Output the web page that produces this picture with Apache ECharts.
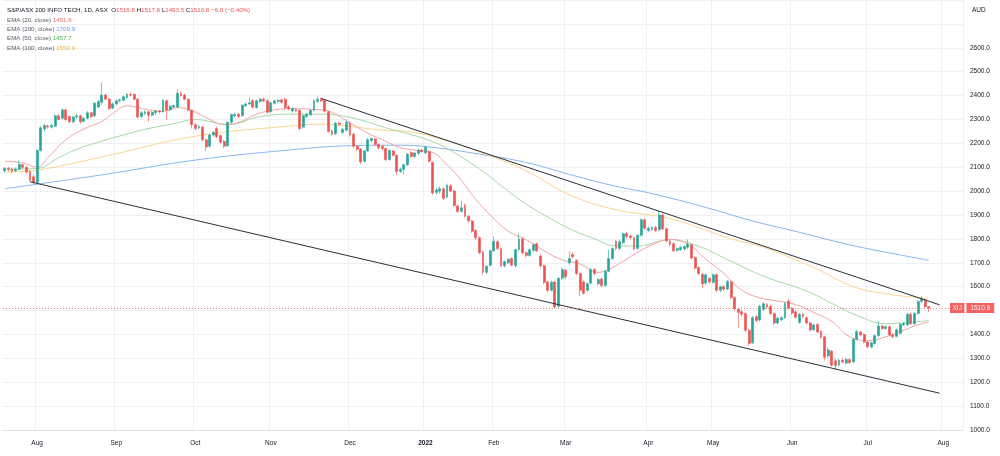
<!DOCTYPE html>
<html>
<head>
<meta charset="utf-8">
<title>S&amp;P/ASX 200 INFO TECH</title>
<script src="https://cdn.jsdelivr.net/npm/echarts/dist/echarts.min.js"></script>
<style>
  html, body { margin: 0; padding: 0; background: #fff; }
  #chart { width: 1000px; height: 456px; }
</style>
</head>
<body>
<div id="chart"></div>
<script>
// daily candles, [open, close, low, high], one array per month
const jul21 = [[2085,2095,2078,2100],[2095,2090,2082,2102],[2092,2084,2075,2098],[2085,2092,2080,2098],[2092,2112,2088,2128],[2110,2100,2094,2115],[2100,2080,2072,2104],[2082,2045,2040,2088],[2060,2036,2030,2070]];
const aug21 = [[2036,2170,2032,2175],[2170,2265,2165,2272],[2260,2275,2250,2282],[2272,2268,2262,2280],[2268,2275,2262,2282],[2272,2315,2268,2320],[2315,2300,2295,2322],[2305,2340,2300,2346],[2340,2300,2292,2345],[2312,2290,2285,2318],[2290,2310,2285,2315],[2310,2315,2300,2322],[2315,2290,2282,2320],[2292,2305,2288,2310],[2305,2328,2300,2335],[2328,2312,2305,2332],[2315,2368,2310,2372],[2352,2375,2348,2382],[2372,2402,2360,2455],[2402,2385,2380,2408],[2385,2345,2340,2390],[2348,2365,2342,2372]];
const sep21 = [[2365,2378,2358,2385],[2378,2382,2370,2388],[2380,2395,2375,2400],[2392,2405,2385,2410],[2405,2402,2396,2414],[2405,2385,2380,2410],[2385,2310,2305,2388],[2312,2328,2305,2335],[2325,2332,2318,2338],[2332,2318,2290,2336],[2318,2330,2312,2335],[2328,2335,2320,2340],[2335,2332,2325,2340],[2332,2380,2328,2386],[2378,2340,2298,2382],[2340,2355,2335,2360],[2352,2358,2345,2362],[2352,2410,2348,2425],[2410,2400,2395,2420],[2402,2385,2380,2408],[2385,2340,2335,2388],[2340,2278,2262,2342]];
const oct21 = [[2278,2262,2255,2285],[2265,2270,2258,2278],[2268,2215,2208,2272],[2215,2185,2168,2220],[2188,2235,2182,2240],[2235,2245,2228,2252],[2262,2228,2222,2270],[2232,2205,2200,2240],[2208,2188,2180,2215],[2190,2288,2185,2292],[2288,2320,2282,2325],[2315,2322,2308,2328],[2322,2312,2305,2328],[2315,2360,2312,2365],[2358,2365,2352,2370],[2365,2370,2360,2392],[2378,2352,2345,2385],[2350,2378,2345,2382],[2375,2385,2370,2390],[2385,2378,2372,2392],[2378,2330,2325,2385]];
const nov21 = [[2332,2370,2328,2375],[2368,2378,2362,2382],[2375,2380,2368,2385],[2382,2372,2365,2388],[2385,2350,2340,2390],[2352,2345,2338,2360],[2335,2345,2328,2350],[2342,2335,2330,2348],[2338,2262,2255,2342],[2268,2315,2262,2320],[2312,2322,2305,2328],[2320,2338,2315,2342],[2338,2378,2335,2385],[2375,2385,2370,2396],[2385,2378,2372,2392],[2380,2335,2328,2385],[2332,2250,2245,2336],[2250,2238,2232,2258],[2240,2285,2235,2290],[2285,2280,2272,2292],[2245,2258,2240,2265],[2255,2288,2250,2295]];
const dec21 = [[2285,2235,2228,2292],[2238,2188,2180,2245],[2188,2175,2168,2192],[2176,2122,2113,2180],[2125,2168,2120,2172],[2168,2215,2165,2222],[2212,2220,2205,2225],[2218,2195,2190,2222],[2195,2182,2175,2200],[2188,2178,2170,2195],[2178,2132,2125,2182],[2132,2170,2128,2175],[2168,2150,2145,2172],[2150,2082,2068,2155],[2082,2092,2075,2098],[2092,2110,2070,2115],[2110,2155,2105,2160],[2162,2145,2140,2168],[2145,2160,2140,2165],[2158,2172,2152,2178],[2172,2165,2160,2178]];
const jan22 = [[2160,2184,2155,2190],[2165,2125,2120,2170],[2120,1992,1985,2125],[1995,2005,1985,2015],[2000,2010,1990,2020],[2010,1970,1962,2015],[1975,2025,1970,2032],[2022,2000,1995,2028],[2000,1940,1935,2005],[1938,1915,1908,1942],[1915,1930,1910,1960],[1940,1895,1890,1948],[1895,1875,1868,1900],[1875,1832,1825,1880],[1835,1805,1795,1840],[1805,1742,1735,1810],[1745,1660,1650,1750],[1660,1685,1650,1690],[1690,1750,1685,1756]];
const feb22 = [[1750,1790,1745,1810],[1788,1760,1752,1795],[1760,1688,1682,1765],[1688,1705,1680,1710],[1700,1715,1695,1720],[1718,1690,1685,1722],[1688,1755,1682,1760],[1755,1800,1750,1823],[1800,1742,1735,1808],[1742,1730,1722,1748],[1730,1755,1725,1760],[1752,1775,1745,1782],[1780,1750,1745,1785],[1728,1688,1680,1735],[1688,1618,1610,1692],[1620,1585,1578,1625],[1585,1618,1580,1625],[1620,1515,1508,1625],[1518,1635,1510,1640],[1635,1672,1628,1680]];
const mar22 = [[1668,1642,1632,1675],[1700,1718,1690,1748],[1735,1725,1718,1745],[1710,1655,1648,1715],[1655,1585,1560,1660],[1620,1572,1565,1628],[1585,1612,1578,1618],[1615,1672,1610,1678],[1672,1655,1648,1678],[1612,1630,1605,1636],[1632,1605,1598,1640],[1605,1665,1600,1670],[1665,1718,1660,1756],[1718,1760,1712,1765],[1790,1760,1752,1795],[1760,1788,1755,1795],[1785,1822,1778,1828],[1822,1810,1800,1830],[1812,1805,1798,1818],[1805,1758,1752,1810],[1760,1815,1755,1820],[1815,1880,1810,1885],[1880,1845,1838,1888]];
const apr22 = [[1835,1845,1828,1850],[1840,1848,1832,1852],[1848,1835,1828,1855],[1838,1900,1832,1918],[1900,1842,1835,1905],[1842,1792,1785,1848],[1790,1778,1770,1795],[1780,1750,1745,1785],[1752,1760,1745,1765],[1755,1765,1750,1770],[1758,1768,1752,1772],[1765,1778,1758,1798],[1775,1720,1715,1780],[1722,1678,1672,1728],[1680,1655,1648,1685],[1652,1612,1594,1656],[1615,1650,1608,1655],[1635,1620,1612,1640]];
const may22 = [[1618,1650,1612,1655],[1650,1585,1578,1655],[1585,1600,1578,1605],[1600,1590,1582,1606],[1590,1622,1585,1628],[1620,1555,1548,1625],[1555,1508,1500,1560],[1505,1492,1428,1512],[1495,1485,1475,1502],[1488,1418,1410,1492],[1418,1362,1353,1425],[1365,1470,1360,1478],[1475,1458,1450,1480],[1460,1518,1455,1525],[1505,1528,1498,1535],[1525,1515,1508,1532],[1518,1488,1482,1524],[1488,1448,1440,1492],[1448,1468,1442,1475],[1462,1470,1455,1476],[1470,1530,1465,1536],[1540,1510,1505,1548]];
const jun22 = [[1510,1490,1482,1515],[1495,1472,1465,1500],[1450,1485,1445,1490],[1485,1475,1468,1490],[1470,1448,1442,1475],[1448,1418,1412,1455],[1420,1440,1415,1445],[1442,1410,1405,1448],[1412,1388,1380,1418],[1390,1305,1290,1395],[1310,1335,1300,1345],[1330,1272,1265,1335],[1290,1270,1250,1298],[1272,1292,1265,1298],[1292,1285,1278,1300],[1280,1295,1275,1302],[1295,1282,1276,1300],[1285,1380,1280,1385],[1380,1412,1375,1420],[1410,1398,1392,1415],[1400,1368,1362,1405]];
const jul22 = [[1368,1348,1342,1372],[1348,1365,1342,1370],[1362,1395,1358,1400],[1395,1435,1390,1457],[1435,1425,1418,1440],[1425,1432,1420,1438],[1432,1398,1392,1438],[1398,1390,1385,1405],[1392,1420,1388,1425],[1405,1442,1400,1448],[1440,1446,1435,1452],[1440,1485,1435,1490],[1485,1445,1440,1492],[1445,1488,1440,1494],[1488,1538,1482,1545],[1538,1550,1532,1560],[1545,1516.8,1510,1550],[1516.8,1510.8,1493.5,1517.8]];

// EMA readings as [bar index, value]
const ema20Pts = [[0,2125],[5,2118],[9,2100],[12,2140],[17,2215],[22,2260],[27,2292],[30,2325],[34,2357],[40,2340],[44,2334],[48,2350],[53,2330],[57,2300],[61,2278],[64,2282],[70,2322],[75,2340],[80,2345],[86,2342],[90,2335],[95,2295],[100,2250],[105,2215],[110,2182],[115,2170],[119,2162],[123,2110],[127,2045],[131,1965],[135,1900],[140,1832],[145,1797],[150,1750],[155,1712],[160,1695],[165,1660],[170,1688],[175,1735],[180,1775],[185,1798],[190,1778],[195,1715],[200,1655],[205,1585],[210,1553],[215,1540],[220,1525],[225,1492],[230,1455],[235,1390],[240,1374],[245,1390],[250,1418],[255,1445],[257,1451.6]];
const ema50Pts = [[0,2092],[9,2095],[15,2140],[20,2175],[26,2205],[33,2235],[39,2259],[47,2282],[53,2300],[60,2282],[63,2280],[70,2309],[79,2322],[87,2322],[96,2309],[106,2265],[118,2213],[124,2170],[132,2093],[140,2000],[144,1956],[150,1900],[158,1836],[165,1795],[169,1772],[176,1770],[185,1797],[193,1769],[202,1706],[211,1644],[223,1582],[230,1530],[236,1486],[245,1445],[251,1450],[257,1457.7]];
const ema100Pts = [[0,2080],[9,2088],[27,2143],[53,2230],[79,2272],[88,2280],[105,2255],[113,2248],[122,2215],[132,2164],[145,2085],[157,1985],[170,1922],[185,1885],[202,1800],[211,1765],[225,1680],[236,1600],[246,1568],[255,1553],[257,1550.9]];
const ema200Pts = [[0,2010],[27,2068],[53,2130],[79,2172],[96,2190],[110,2192],[118,2185],[132,2155],[145,2120],[157,2070],[170,2020],[179,1993],[193,1940],[208,1875],[219,1835],[235,1775],[249,1733],[257,1709.9]];

// drawn trend lines: [bar index, price]
const upperTrend = [[88, 2388], [260, 1524]];
const lowerTrend = [[7, 2039], [260, 1154]];

const holidays = ['2021-12-27','2021-12-28','2022-01-03','2022-01-26','2022-04-15','2022-04-18','2022-04-25','2022-06-13'];
const firstDay = '2021-07-20';
const lastDay = '2022-08-08';
const monthNames = ['Jan','Feb','Mar','Apr','May','Jun','Jul','Aug','Sep','Oct','Nov','Dec'];

const FONT = '"Liberation Sans", Arial, sans-serif';
const UP = '#26a69a';
const DOWN = '#ef5350';

function tradingDays() {
  const out = [];
  const d = new Date(firstDay + 'T00:00:00Z');
  const end = new Date(lastDay + 'T00:00:00Z');
  while (d <= end) {
    const iso = d.toISOString().slice(0, 10);
    const dow = d.getUTCDay();
    if (dow > 0 && dow < 6 && holidays.indexOf(iso) < 0) out.push(iso);
    d.setUTCDate(d.getUTCDate() + 1);
  }
  return out;
}

const dates = tradingDays();
const candles = [].concat(jul21, aug21, sep21, oct21, nov21, dec21, jan22, feb22, mar22, apr22, may22, jun22, jul22);

const monthStart = new Set();
dates.forEach((d, i) => {
  if (i > 0 && d.slice(5, 7) !== dates[i - 1].slice(5, 7)) monthStart.add(i);
});
const isMonthStart = (i) => monthStart.has(i);

const toSeries = (pts) => pts.map(([i, v]) => [dates[i], v]);
const trendLine = (pts) => [
  { coord: [dates[pts[0][0]], pts[0][1]], lineStyle: { color: '#2a2e39', width: 1, type: 'solid' }, label: { show: false } },
  { coord: [dates[pts[1][0]], pts[1][1]] }
];

const last = candles[candles.length - 1];
const prevClose = candles[candles.length - 2][1];
const chg = last[1] - prevClose;
const chgPct = chg / prevClose * 100;
const sign = (v) => (v < 0 ? '\u2212' : '');
const lastOf = (pts) => pts[pts.length - 1][1].toFixed(1);

const legendText = [
  '{t|S&P/ASX 200 INFO TECH, 1D, ASX}  ' +
    '{t|O}{r|' + last[0].toFixed(1) + '} {t|H}{r|' + last[3].toFixed(1) + '} ' +
    '{t|L}{r|' + last[2].toFixed(1) + '} {t|C}{r|' + last[1].toFixed(1) + '} ' +
    '{r|' + sign(chg) + Math.abs(chg).toFixed(1) + ' (' + sign(chgPct) + Math.abs(chgPct).toFixed(2) + '%)}',
  '{g|EMA (20, close)} {e20|' + lastOf(ema20Pts) + '}',
  '{g|EMA (200, close)} {e200|' + lastOf(ema200Pts) + '}',
  '{g|EMA (50, close)} {e50|' + lastOf(ema50Pts) + '}',
  '{g|EMA (100, close)} {e100|' + lastOf(ema100Pts) + '}'
].join('\n');

const txt = (color) => ({ color, fontSize: 6.2, lineHeight: 9.3, fontFamily: FONT });

const chart = echarts.init(document.getElementById('chart'));

chart.setOption({
  animation: false,
  backgroundColor: '#ffffff',
  title: [
    {
      left: 7,
      top: 6,
      padding: 0,
      text: legendText,
      textStyle: {
        fontSize: 6.2,
        lineHeight: 9.3,
        fontFamily: FONT,
        fontWeight: 'normal',
        color: '#131722',
        rich: {
          t: txt('#131722'),
          g: txt('#555a66'),
          r: txt('#ef5350'),
          e20: txt('#f06a6a'),
          e200: txt('#5b9cf6'),
          e50: txt('#4caf50'),
          e100: txt('#f5b53f')
        }
      }
    },
    {
      left: 972,
      top: 7,
      padding: 0,
      text: 'AUD',
      textStyle: { fontSize: 6.5, fontFamily: FONT, fontWeight: 'normal', color: '#131722' }
    }
  ],
  grid: { left: 3, right: 37, top: -3, bottom: 26 },
  xAxis: {
    type: 'category',
    data: dates,
    boundaryGap: true,
    axisLine: { show: true, lineStyle: { color: '#e0e3eb' } },
    axisTick: { show: false },
    axisLabel: {
      interval: isMonthStart,
      margin: 10,
      fontSize: 6.5,
      fontFamily: FONT,
      color: '#131722',
      formatter: (v) => {
        const m = +v.slice(5, 7);
        return m === 1 ? '{y|' + v.slice(0, 4) + '}' : monthNames[m - 1];
      },
      rich: { y: { fontSize: 6.5, fontWeight: 'bold', fontFamily: FONT, color: '#131722' } }
    },
    splitLine: { show: true, interval: isMonthStart, lineStyle: { color: '#eef0f4' } }
  },
  yAxis: {
    type: 'value',
    position: 'right',
    min: 1000,
    max: 2800,
    interval: 100,
    axisLine: { show: false },
    axisTick: { show: false },
    axisLabel: {
      margin: 7,
      fontSize: 6.5,
      fontFamily: FONT,
      color: '#131722',
      formatter: (v) => (v > 2600 || v === 1500 ? '' : v.toFixed(1))
    },
    splitLine: { lineStyle: { color: '#eef0f4' } }
  },
  series: [
    { name: 'EMA 200', type: 'line', data: toSeries(ema200Pts), smooth: 0.4, symbol: 'none', lineStyle: { color: '#88b6ee', width: 1 }, z: 1 },
    { name: 'EMA 100', type: 'line', data: toSeries(ema100Pts), smooth: 0.4, symbol: 'none', lineStyle: { color: '#fcd58f', width: 1 }, z: 1 },
    { name: 'EMA 50', type: 'line', data: toSeries(ema50Pts), smooth: 0.4, symbol: 'none', lineStyle: { color: '#a6d8a6', width: 1 }, z: 1 },
    { name: 'EMA 20', type: 'line', data: toSeries(ema20Pts), smooth: 0.4, symbol: 'none', lineStyle: { color: '#f5a3a3', width: 1 }, z: 1 },
    {
      name: 'XIJ',
      type: 'candlestick',
      data: candles,
      barWidth: 2.4,
      itemStyle: {
        color: UP,
        color0: DOWN,
        borderColor: UP,
        borderColor0: DOWN,
        borderWidth: 0.6
      },
      z: 3,
      markLine: {
        silent: true,
        animation: false,
        symbol: ['none', 'none'],
        lineStyle: { color: '#f26d6b', width: 1, type: [1, 2] },
        data: [
          trendLine(upperTrend),
          trendLine(lowerTrend),
          {
            yAxis: last[1],
            lineStyle: { color: '#f26d6b', width: 1, type: [1, 2], opacity: 0.9 },
            label: {
              show: true,
              position: 'end',
              distance: -13,
              formatter: '{n|XIJ}{s| }{p|' + last[1].toFixed(1) + '}',
              rich: {
                n: { backgroundColor: DOWN, color: '#fff', fontSize: 6.5, fontFamily: FONT, padding: [2, 2.5, 1, 2.5] },
                s: { width: 2, fontSize: 2 },
                p: { backgroundColor: DOWN, color: '#fff', fontSize: 6.5, fontFamily: FONT, padding: [2, 4, 1, 4] }
              }
            }
          }
        ]
      }
    }
  ]
});
</script>
</body>
</html>
